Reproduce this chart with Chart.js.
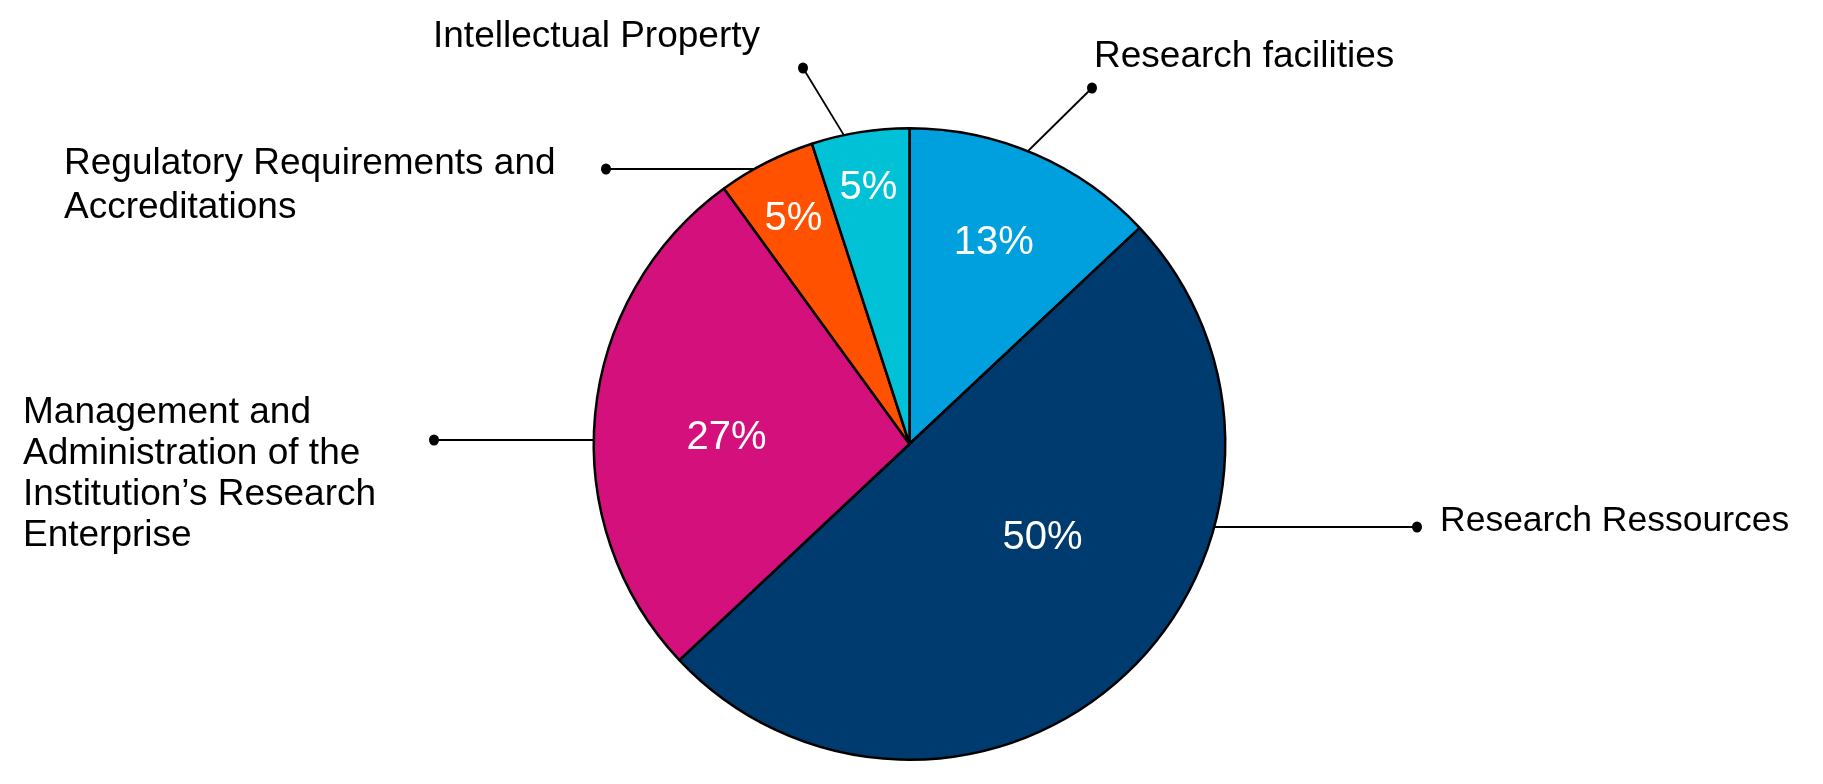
<!DOCTYPE html>
<html>
<head>
<meta charset="utf-8">
<script src="https://cdn.jsdelivr.net/npm/chart.js@4/dist/chart.umd.min.js"></script>
<style>
  html, body { margin: 0; padding: 0; background: #fff; }
  #wrap { width: 1823px; height: 784px; position: relative; }
</style>
</head>
<body>
<div id="wrap"><canvas id="pie"></canvas></div>
<script>
const categories = [
  "Research facilities",
  "Research Ressources",
  "Management and Administration of the Institution’s Research Enterprise",
  "Regulatory Requirements and Accreditations",
  "Intellectual Property"
];
const shares = [13, 50, 27, 5, 5];
const sliceColors = ["#00a0df", "#003b6f", "#d4107c", "#ff5100", "#00c1d6"];

// wrapped label lines, same order as categories
const labelLines = [
  ["Research facilities"],
  ["Research Ressources"],
  ["Management and", "Administration of the", "Institution’s Research", "Enterprise"],
  ["Regulatory Requirements and", "Accreditations"],
  ["Intellectual Property"]
];

// placement of the percent labels inside each slice (fraction of radius, angle shift in degrees)
const pctRadius = [0.70, 0.51, 0.58, 0.81, 0.83];
const pctShift = [-1, -12.5, -2.5, 0, 0];

// callout placement: text left/first line centre, line gap, font size, dot, where the leader meets the arc
const callouts = [
  {tx: 1094, ty: 57, gap: 41, size: 37, dot: [1092, 88], anchor: 22},
  {tx: 1440, ty: 521, gap: 41, size: 35.5, dot: [1417, 527], anchor: "h"},
  {tx: 23, ty: 413, gap: 41, size: 37, dot: [434, 440], anchor: "h"},
  {tx: 64, ty: 164, gap: 44, size: 37, dot: [606, 169], anchor: "h"},
  {tx: 433, ty: 37, gap: 41, size: 37, dot: [803, 68], anchor: 348}
];

const font = "'Liberation Sans', Arial, sans-serif";

const calloutPlugin = {
  id: "callouts",
  afterDraw(chart){
    const ctx = chart.ctx;
    const meta = chart.getDatasetMeta(0);
    const first = meta.data[0];
    const cx = first.x, cy = first.y, r = first.outerRadius;
    ctx.save();

    // percent labels
    ctx.fillStyle = "#fff";
    ctx.font = "40px " + font;
    ctx.textAlign = "center";
    ctx.textBaseline = "middle";
    meta.data.forEach((arc, i) => {
      const a = (arc.startAngle + arc.endAngle) / 2 + pctShift[i] * Math.PI / 180;
      const d = r * pctRadius[i];
      ctx.fillText(shares[i] + "%", cx + Math.cos(a) * d, cy + Math.sin(a) * d + 3);
    });

    // leader lines and outside labels
    ctx.strokeStyle = "#000";
    ctx.fillStyle = "#000";
    ctx.lineWidth = 1.8;
    ctx.textAlign = "left";
    callouts.forEach((c, i) => {
      const [dx, dy] = c.dot;
      let ex, ey;
      if(c.anchor === "h"){
        ey = dy;
        const off = Math.sqrt(Math.max(r * r - (dy - cy) * (dy - cy), 0));
        ex = dx > cx ? cx + off : cx - off;
      } else {
        const a = (c.anchor - 90) * Math.PI / 180;
        ex = cx + Math.cos(a) * r;
        ey = cy + Math.sin(a) * r;
      }
      ctx.beginPath();
      ctx.moveTo(dx, dy);
      ctx.lineTo(ex, ey);
      ctx.stroke();
      ctx.beginPath();
      ctx.ellipse(dx, dy, 5, 5.5, 0, 0, Math.PI * 2);
      ctx.fill();
      ctx.font = c.size + "px " + font;
      labelLines[i].forEach((line, k) => {
        ctx.fillText(line, c.tx, c.ty + k * c.gap);
      });
    });
    ctx.restore();
  }
};

new Chart(document.getElementById("pie"), {
  type: "pie",
  data: {
    labels: categories,
    datasets: [{
      data: shares,
      backgroundColor: sliceColors,
      borderColor: "#000",
      borderWidth: 2.5
    }]
  },
  options: {
    responsive: true,
    maintainAspectRatio: false,
    animation: false,
    layout: {padding: {top: 127, bottom: 23, left: 0, right: 4}},
    plugins: {legend: {display: false}, tooltip: {enabled: false}}
  },
  plugins: [calloutPlugin]
});
</script>
</body>
</html>
